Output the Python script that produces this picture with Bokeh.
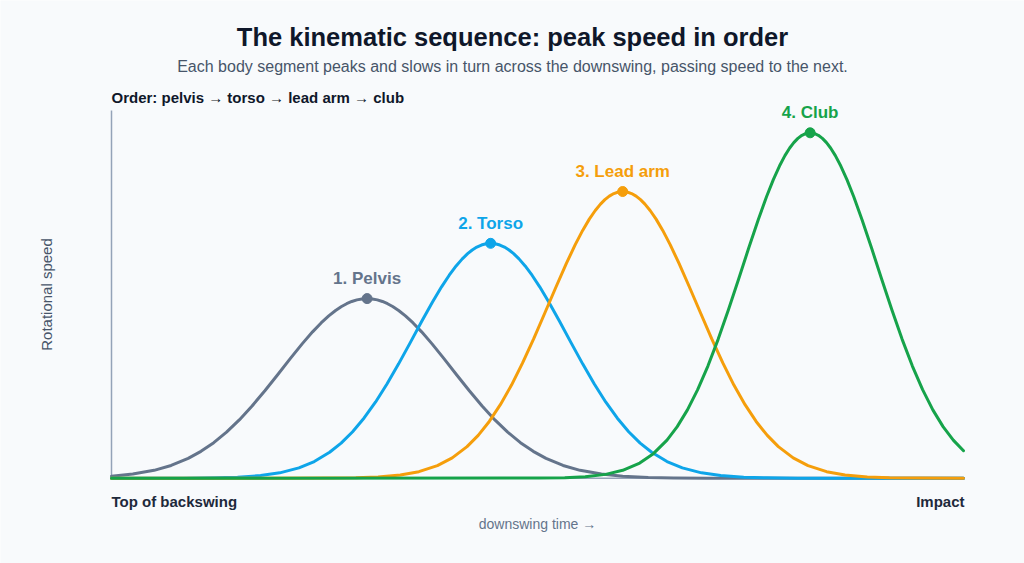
import math

from bokeh.embed import file_html
from bokeh.models import Label, Range1d
from bokeh.plotting import figure
from bokeh.resources import INLINE

# ---------------------------------------------------------------------------
# Data: rotational speed (relative units, club peak = 100) sampled across the
# downswing (0 = top of backswing, 1 = impact)
# ---------------------------------------------------------------------------
pelvis_t = [0.000, 0.025, 0.050, 0.070, 0.090, 0.105, 0.120, 0.135, 0.150, 0.165,
            0.180, 0.195, 0.210, 0.224, 0.236, 0.246, 0.255, 0.263, 0.270, 0.276,
            0.282, 0.288, 0.294, 0.300, 0.306, 0.312, 0.318, 0.324, 0.330, 0.337,
            0.345, 0.354, 0.364, 0.376, 0.390, 0.405, 0.420, 0.435, 0.450, 0.465,
            0.480, 0.495, 0.510, 0.530, 0.550, 0.575, 0.600, 0.630, 0.660, 0.700,
            1.000]
pelvis_speed = [0.58, 1.19, 2.28, 3.69, 5.73, 7.77, 10.29, 13.33, 16.88, 20.91,
                25.31, 29.96, 34.68, 38.96, 42.37, 44.95, 46.99, 48.56, 49.71, 50.52,
                51.16, 51.63, 51.91, 52.00, 51.91, 51.63, 51.16, 50.52, 49.71, 48.56,
                46.99, 44.95, 42.37, 38.96, 34.68, 29.96, 25.31, 20.91, 16.88, 13.33,
                10.29, 7.77, 5.73, 3.69, 2.28, 1.19, 0.58, 0.22, 0.08, 0.02,
                0.00]

torso_t = [0.000, 0.085, 0.121, 0.148, 0.175, 0.1975, 0.220, 0.238, 0.256, 0.2695,
           0.283, 0.2965, 0.310, 0.3235, 0.337, 0.3505, 0.364, 0.3766, 0.3874, 0.3964,
           0.4045, 0.4117, 0.418, 0.4234, 0.4288, 0.4342, 0.4396, 0.445, 0.4504, 0.4558,
           0.4612, 0.4666, 0.472, 0.4783, 0.4855, 0.4936, 0.5026, 0.5134, 0.526, 0.5395,
           0.553, 0.5665, 0.580, 0.5935, 0.607, 0.6205, 0.634, 0.652, 0.670, 0.6925,
           0.715, 0.742, 0.769, 0.805, 1.000]
torso_speed = [0.00, 0.02, 0.10, 0.29, 0.76, 1.55, 2.99, 4.83, 7.50, 10.16,
               13.46, 17.43, 22.08, 27.34, 33.10, 39.18, 45.35, 50.94, 55.41, 58.77,
               61.45, 63.50, 65.01, 66.07, 66.91, 67.51, 67.88, 68.00, 67.88, 67.51,
               66.91, 66.07, 65.01, 63.50, 61.45, 58.77, 55.41, 50.94, 45.35, 39.18,
               33.10, 27.34, 22.08, 17.43, 13.46, 10.16, 7.50, 4.83, 2.99, 1.55,
               0.76, 0.29, 0.10, 0.02, 0.00]

arm_t = [0.000, 0.252, 0.2868, 0.3129, 0.339, 0.3608, 0.3825, 0.3999, 0.4173, 0.4304,
         0.4434, 0.4564, 0.4695, 0.4825, 0.4956, 0.5086, 0.5217, 0.5339, 0.5443, 0.5530,
         0.5608, 0.5678, 0.5739, 0.5791, 0.5843, 0.5896, 0.5948, 0.600, 0.6052, 0.6104,
         0.6157, 0.6209, 0.6261, 0.6322, 0.6392, 0.6470, 0.6557, 0.6661, 0.6783, 0.6914,
         0.7044, 0.7175, 0.7305, 0.7436, 0.7566, 0.7697, 0.7827, 0.8001, 0.8175, 0.8393,
         0.861, 0.8871, 0.9132, 0.948, 1.000]
arm_speed = [0.00, 0.03, 0.13, 0.36, 0.92, 1.89, 3.65, 5.89, 9.15, 12.40,
             16.43, 21.28, 26.95, 33.37, 40.40, 47.83, 55.36, 62.18, 67.63, 71.74,
             75.01, 77.51, 79.35, 80.64, 81.67, 82.41, 82.85, 83.00, 82.85, 82.41,
             81.67, 80.64, 79.35, 77.51, 75.01, 71.74, 67.63, 62.18, 55.36, 47.83,
             40.40, 33.37, 26.95, 21.28, 16.43, 12.40, 9.15, 5.89, 3.65, 1.89,
             0.92, 0.36, 0.13, 0.03, 0.00]

club_t = [0.000, 0.500, 0.532, 0.556, 0.580, 0.600, 0.620, 0.636, 0.652, 0.664,
          0.676, 0.688, 0.700, 0.712, 0.724, 0.736, 0.748, 0.7592, 0.7688, 0.7768,
          0.784, 0.7904, 0.796, 0.8008, 0.8056, 0.8104, 0.8152, 0.820, 0.8248, 0.8296,
          0.8344, 0.8392, 0.844, 0.8496, 0.856, 0.8632, 0.8712, 0.8808, 0.892, 0.904,
          0.916, 0.928, 0.940, 0.952, 0.964, 0.976, 0.988, 1.000]
club_speed = [0.00, 0.03, 0.15, 0.43, 1.11, 2.28, 4.39, 7.10, 11.03, 14.94,
              19.79, 25.63, 32.47, 40.20, 48.68, 57.62, 66.70, 74.92, 81.48, 86.43,
              90.37, 93.38, 95.60, 97.16, 98.39, 99.28, 99.82, 100.00, 99.82, 99.28,
              98.39, 97.16, 95.60, 93.38, 90.37, 86.43, 81.48, 74.92, 66.70, 57.62,
              48.68, 40.20, 32.47, 25.63, 19.79, 14.94, 11.03, 7.96]

segment_labels = ["1. Pelvis", "2. Torso", "3. Lead arm", "4. Club"]
peak_t = [0.300, 0.445, 0.600, 0.820]
peak_speed = [52.0, 68.0, 83.0, 100.0]
segment_colors = ["#64748b", "#0ea5e9", "#f59e0b", "#16a34a"]

series = [
    (pelvis_t, pelvis_speed),
    (torso_t, torso_speed),
    (arm_t, arm_speed),
    (club_t, club_speed),
]

# ---------------------------------------------------------------------------
# Layout: the frame covers the whole canvas; data ranges are chosen so that
# t=0..1 spans the plotting area between the two axis labels.
# ---------------------------------------------------------------------------
W, H = 1024, 563
X_LEFT, X_RIGHT = 111.0, 963.0      # pixel columns of t = 0 and t = 1
Y_BASE = 477.7                      # pixel row of speed = 0
PX_PER_UNIT = 3.454                 # vertical pixels per speed unit
AXIS_TOP_PX = 110.0
AXIS_RIGHT_PX = 964.0

FONT = "Liberation Sans"
BG = "#f8fafc"


def dx(px):
    return (px - X_LEFT) / (X_RIGHT - X_LEFT)


def dy(py):
    return (Y_BASE - py) / PX_PER_UNIT


p = figure(
    width=W,
    height=H,
    x_range=Range1d(dx(0), dx(W)),
    y_range=Range1d(dy(H), dy(0)),
    output_backend="svg",
    toolbar_location=None,
    x_axis_location=None,
    y_axis_location=None,
    min_border=0,
)
p.grid.visible = False
p.outline_line_color = None
p.background_fill_color = BG
p.border_fill_color = BG

# axis lines
axis_color = "#94a3b8"
p.line([0, 0], [0, dy(AXIS_TOP_PX)], line_color=axis_color, line_width=1.5)
p.line([0, dx(AXIS_RIGHT_PX)], [0, 0], line_color=axis_color, line_width=1.5)

# speed curves
for (t, s), color in zip(series, segment_colors):
    p.line(t, s, line_color=color, line_width=3,
           line_join="round", line_cap="round")

# peak markers and labels
p.scatter(peak_t, peak_speed, size=10, fill_color=segment_colors,
          line_color=segment_colors, marker="circle")
for name, t, s, color in zip(segment_labels, peak_t, peak_speed, segment_colors):
    p.add_layout(Label(
        x=t, y=s + 20 / PX_PER_UNIT, text=name,
        text_align="center", text_baseline="middle",
        text_font=FONT, text_font_size="17px", text_font_style="bold",
        text_color=color,
    ))


def add_text(px, py, text, size, color, bold=False, align="center", angle=0.0):
    p.add_layout(Label(
        x=dx(px), y=dy(py), text=text,
        text_align=align, text_baseline="middle",
        text_font=FONT, text_font_size=size,
        text_font_style="bold" if bold else "normal",
        text_color=color, angle=angle,
    ))


add_text(512, 36, "The kinematic sequence: peak speed in order", "25.5px", "#0f172a", bold=True)
add_text(512, 66, "Each body segment peaks and slows in turn across the downswing, "
         "passing speed to the next.", "16px", "#475569")
add_text(111, 97, "Order: pelvis \u2192 torso \u2192 lead arm \u2192 club", "15px",
         "#0f172a", bold=True, align="left")
add_text(46, 294, "Rotational speed", "15px", "#475569", angle=math.pi / 2)
add_text(111, 501, "Top of backswing", "15px", "#1e293b", bold=True, align="left")
add_text(964, 501, "Impact", "15px", "#1e293b", bold=True, align="right")
add_text(537, 523, "downswing time \u2192", "14px", "#64748b")

open("out.html", "w").write(file_html(p, INLINE))
